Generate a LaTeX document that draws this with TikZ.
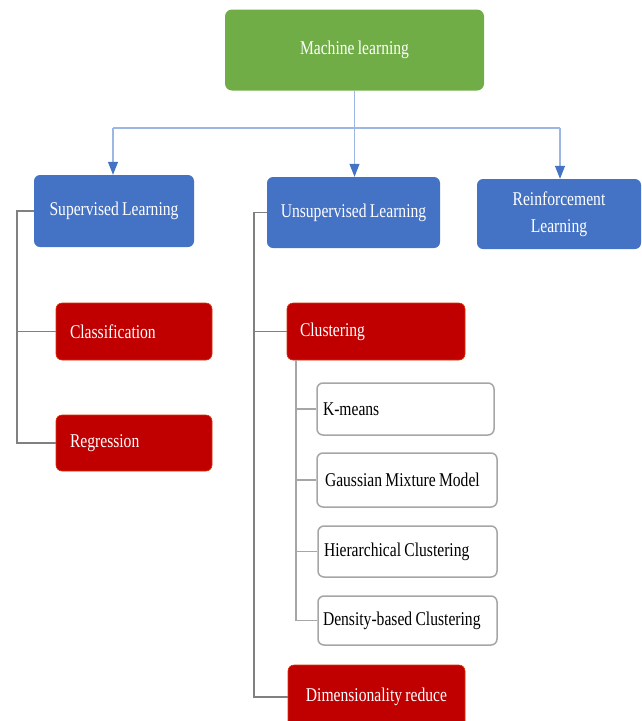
\documentclass[tikz,border=0pt]{standalone}
\usepackage{fontspec}
\setmainfont{Liberation Serif}[FakeStretch=0.8, WordSpace=0.85]
\usepackage{tikz}
\usetikzlibrary{arrows.meta}
\definecolor{mlgreen}{HTML}{70AD47}
\definecolor{typeblue}{HTML}{4472C4}
\definecolor{algred}{HTML}{C00000}
\definecolor{arrowblue}{HTML}{9DB6E4}
\definecolor{treegray}{HTML}{808080}
\definecolor{subgray}{HTML}{A6A6A6}
\newcommand{\lefttext}[2]{\makebox[#1][l]{#2}}

\begin{document}
\begin{tikzpicture}[x=1pt, y=-1pt,
    every node/.style={font=\fontsize{19.5}{26.5}\selectfont, inner sep=0pt},
    rootbox/.style={rounded corners=7pt, fill=mlgreen, text=white},
    typebox/.style={rounded corners=6pt, fill=typeblue, text=white, align=center},
    algbox/.style={rounded corners=6pt, fill=algred, draw=orange!40!algred, line width=0.6pt, text=white},
    subbox/.style={rounded corners=6pt, fill=white, draw=subgray, line width=1.5pt, text=black},
    branch/.style={-{Triangle[length=13pt, width=10pt, color=typeblue]}, draw=arrowblue, line width=1.2pt},
    treeline/.style={draw=treegray, line width=1.4pt},
    subline/.style={draw=subgray, line width=1.4pt}]
  \useasboundingbox (0, 0) rectangle (642, 721);
  % root
  \node[rootbox, minimum width=259pt, minimum height=81pt] (ml) at (354.5, 50) {Machine learning};
  % learning types
  \node[typebox, minimum width=160pt, minimum height=72pt] (sup) at (114, 211) {Supervised Learning};
  \node[typebox, minimum width=173pt, minimum height=71pt] (uns) at (353.5, 212.5) {Unsupervised Learning};
  \node[typebox, minimum width=164pt, minimum height=70pt] (rein) at (559, 214) {Reinforcement\\Learning};
  % supervised tasks
  \node[algbox, minimum width=156pt, minimum height=57pt] (cls) at (134, 331.5) {\lefttext{128pt}{Classification}};
  \node[algbox, minimum width=156pt, minimum height=56pt] (reg) at (134, 443) {\lefttext{128pt}{Regression}};
  % unsupervised tasks
  \node[algbox, minimum width=178pt, minimum height=57pt] (clu) at (376, 331.5) {\lefttext{152pt}{Clustering}};
  \node[algbox, minimum width=177pt, minimum height=64pt] (dim) at (376.5, 697) {Dimensionality reduce};
  % clustering methods
  \node[subbox, minimum width=177pt, minimum height=52pt] (km) at (405.5, 409) {\lefttext{165pt}{K-means}};
  \node[subbox, minimum width=180pt, minimum height=54pt] (gmm) at (407, 480) {\lefttext{164pt}{Gaussian Mixture Model}};
  \node[subbox, minimum width=179pt, minimum height=51pt] (hier) at (407.5, 551.5) {\lefttext{167pt}{Hierarchical Clustering}};
  \node[subbox, minimum width=179pt, minimum height=49pt] (dens) at (407.5, 620.5) {\lefttext{169pt}{Density-based Clustering}};

  % arrows from the root
  \coordinate (bus) at (354.5, 128);
  \draw[draw=arrowblue, line width=1.2pt] (113, 128) -- (560, 128);
  \draw[draw=arrowblue, line width=1.2pt] (ml.south) -- (bus);
  \draw[branch] (bus) -- (uns.north -| bus);
  \draw[branch] (113, 128) -- (sup.north -| 113, 0);
  \draw[branch] (560, 128) -- (rein.north -| 560, 0);

  % tree lines
  \coordinate (supbus) at (17, 211);
  \draw[treeline] (sup.west) -- (supbus) |- (reg.west);
  \draw[treeline] (supbus) |- (cls.west);
  \coordinate (unsbus) at (254, 212.5);
  \draw[treeline] (uns.west) -- (unsbus) |- (dim.west);
  \draw[treeline] (unsbus) |- (clu.west);
  \coordinate (clubus) at (296, 360);
  \draw[subline] (clubus) |- (dens.west);
  \draw[subline] (clubus) |- (hier.west);
  \draw[subline] (clubus) |- (gmm.west);
  \draw[subline] (clubus) |- (km.west);
\end{tikzpicture}
\end{document}
